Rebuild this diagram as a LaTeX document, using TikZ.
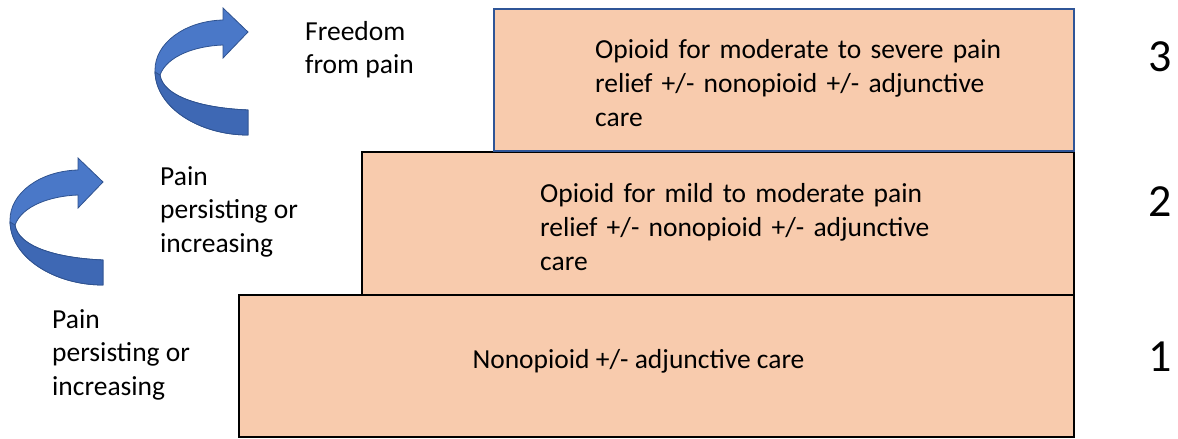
\documentclass[tikz,border=0pt]{standalone}
\usepackage{fontspec}
\setmainfont{Carlito}
\usetikzlibrary{positioning}
\definecolor{Peach}{HTML}{F8CBAD}
\definecolor{StepBlue}{HTML}{2F5597}
\definecolor{RibbonBlue}{HTML}{4A78C8}
\definecolor{RibbonDark}{HTML}{2F528F}
\definecolor{RibbonShade}{HTML}{3E68B4}

\tikzset{
  stepbox/.style={draw=black, line width=2pt, fill=Peach, inner sep=0pt, anchor=north west},
  steptext/.style={font=\fontsize{27.5}{34}\selectfont, align=left, inner sep=0pt},
  sidelabel/.style={font=\fontsize{27.5}{33.5}\selectfont, align=left, inner sep=0pt, anchor=north west},
  stepnum/.style={font=\fontsize{46}{50}\selectfont, inner sep=0pt},
  uturn/.pic={
    % whole ribbon
    \fill[RibbonBlue, draw=RibbonDark, line width=0.8pt]
      (93,102) .. controls (45,100) and (8,88) .. (5,67)
      .. controls (12,48) and (40,38) .. (68,37)
      -- (68,50) -- (93,24) -- (68,0) -- (68,12)
      .. controls (30,13) and (0,35) .. (0,62)
      .. controls (0,100) and (45,127) .. (93,127) -- cycle;
    % lower band, a little darker
    \fill[RibbonShade, draw=RibbonDark, line width=0.8pt]
      (93,102) .. controls (45,100) and (8,88) .. (5,67)
      -- (0,64) .. controls (1,100) and (45,127) .. (93,127) -- cycle;
  }
}

\begin{document}
\begin{tikzpicture}[x=1pt, y=-1pt]
\useasboundingbox (0,0) rectangle (1178,439);

% steps, bottom first
\node[stepbox, minimum width=835pt, minimum height=142pt] (step1) at (238,294) {};
\node[stepbox, minimum width=712pt, minimum height=143pt] (step2) at (361,151) {};
\node[stepbox, draw=StepBlue, minimum width=580pt, minimum height=142pt] (step3) at (493,8) {};

\node[steptext, anchor=center] (text1) at ([xshift=-18pt, yshift=5pt]step1.center) {Nonopioid +/- adjunctive care};
\node[steptext, anchor=west, text width=470pt] (text2) at ([xshift=179pt, yshift=-4pt]step2.west)
  {Opioid for mild to moderate pain\\relief +/- nonopioid +/- adjunctive\\care};
\node[steptext, anchor=west, text width=470pt] (text3) at ([xshift=102pt, yshift=-3pt]step3.west)
  {Opioid for moderate to severe pain\\relief +/- nonopioid +/- adjunctive\\care};

% step numbers
\node[stepnum] (num1) at (1160,357) {1};
\node[stepnum] (num2) at (1160,202) {2};
\node[stepnum] (num3) at (1160,57) {3};

% side labels
\node[sidelabel] (free) at (305,21) {Freedom\\from pain};
\node[sidelabel] (pain2) at (160,166) {Pain\\persisting or\\increasing};
\node[sidelabel] (pain1) at (52,309) {Pain\\persisting or\\increasing};

% curved arrows
\pic at (155,8) {uturn};
\pic at (10,158) {uturn};
\end{tikzpicture}
\end{document}
